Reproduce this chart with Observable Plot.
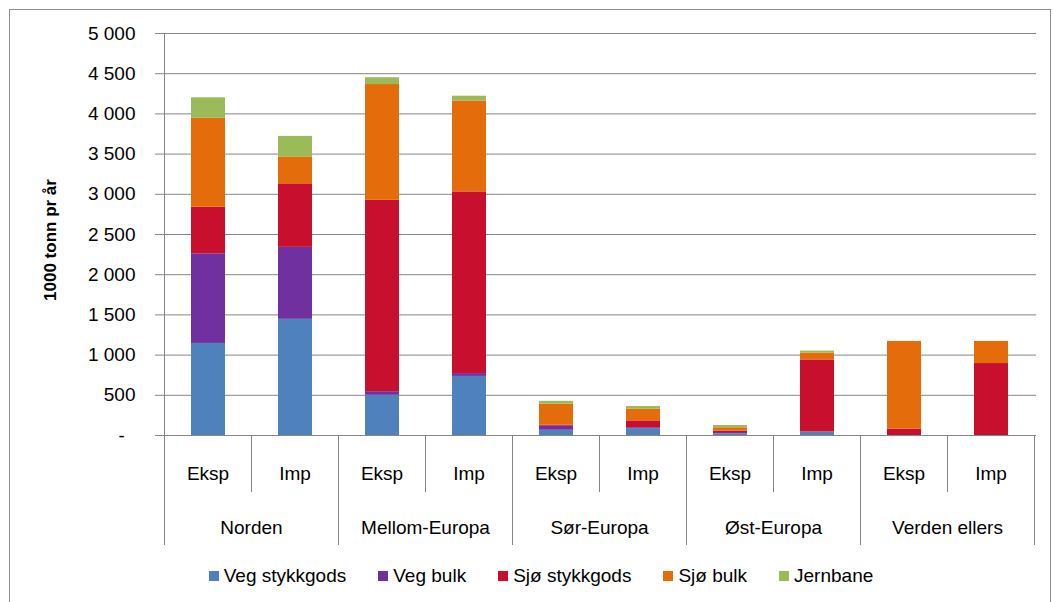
<!DOCTYPE html>
<html><head><meta charset="utf-8">
<script src="https://cdn.jsdelivr.net/npm/d3@7"></script>
<script src="https://cdn.jsdelivr.net/npm/@observablehq/plot@0.6"></script>
<style>
body{margin:0;background:#fff;font-family:"Liberation Sans",Arial,sans-serif;}
#frame{position:absolute;left:9px;top:9px;width:1042px;height:620px;border:1px solid #8c8c8c;box-sizing:border-box;}
#chart{position:absolute;left:0;top:0;}
#legend{position:absolute;top:565px;left:0;width:1082px;display:flex;justify-content:center;gap:32px;font-size:19px;color:#000;}
#legend .it{display:flex;align-items:center;}
#legend .sw{width:10px;height:10px;margin-right:5px;display:inline-block;}
</style></head><body>
<div id="frame"></div>
<div id="chart"></div>
<div id="legend"></div>
<script>
const regions = ["Norden","Mellom-Europa","Sør-Europa","Øst-Europa","Verden ellers"];
const flows = ["Eksp","Imp"];
const series = ["Veg stykkgods","Veg bulk","Sjø stykkgods","Sjø bulk","Jernbane"];
const colors = ["#4F81BD","#7030A0","#C8102E","#E46C0A","#9BBB59"];
// one value per bar: Norden Eksp, Norden Imp, Mellom-Europa Eksp, ... Verden ellers Imp
const vegStykkgods = [1145,1445,500,735,65,85,20,40,0,0];
const vegBulk      = [1115,895,45,35,50,12,17,5,0,0];
const sjoStykkgods = [580,790,2380,2260,15,85,18,895,80,895];
const sjoBulk      = [1105,335,1440,1130,260,145,41,85,1090,275];
const jernbane     = [255,255,85,60,35,33,28,25,0,0];
const yTicks = [0,500,1000,1500,2000,2500,3000,3500,4000,4500,5000];

const seriesValues = [vegStykkgods, vegBulk, sjoStykkgods, sjoBulk, jernbane];
const bars = [];
regions.forEach(r => flows.forEach(f => bars.push({key: r + "|" + f, region: r, flow: f})));
const rows = [];
bars.forEach((b, i) => series.forEach((s, j) => rows.push({key: b.key, series: s, value: seriesValues[j][i]})));

const fmt = d => d === 0 ? "-\u00A0\u00A0" : d3.format(",")(d).replace(/,/g, " ");
const FONT = "'Liberation Sans', Arial, sans-serif";
const FS = 19;
const W = 1053, H = 560, BASE = 435, TOP = 33;

const plot = Plot.plot({
  width: W, height: H,
  marginTop: TOP, marginBottom: H - BASE, marginLeft: 162, marginRight: 17,
  style: {fontFamily: FONT, fontSize: FS + "px", color: "#000", background: "transparent", overflow: "visible"},
  x: {domain: bars.map(b => b.key), paddingInner: 0.61, paddingOuter: 0.305, axis: null},
  y: {domain: [0, 5000], axis: null},
  color: {domain: series, range: colors},
  marks: [
    Plot.gridY(yTicks, {stroke: "#868686", strokeOpacity: 1, strokeWidth: 1}),
    Plot.barY(rows, {x: "key", y: "value", fill: "series", inset: 0}),
    Plot.axisY(yTicks, {tickSize: 7, tickPadding: 20, tickFormat: fmt, label: null, stroke: "#868686", fill: "#000"}),
    Plot.ruleY([0], {stroke: "#868686", strokeWidth: 1})
  ]
});
document.getElementById("chart").appendChild(plot);

const sx = plot.scale("x");
const step = sx.step, bw = sx.bandwidth;
const svg = d3.select(plot);
const left = k => sx.apply(k) + bw / 2 - step / 2;
const g = svg.append("g");
// y axis line
g.append("line").attr("x1", left(bars[0].key)).attr("x2", left(bars[0].key))
  .attr("y1", TOP).attr("y2", BASE).attr("stroke", "#868686");
// separators and inner labels
bars.forEach((b, i) => {
  const x = left(b.key);
  g.append("line").attr("x1", x).attr("x2", x).attr("y1", BASE)
    .attr("y2", i % 2 === 0 ? 545 : 492).attr("stroke", "#868686");
  g.append("text").attr("x", x + step / 2).attr("y", 473).attr("text-anchor", "middle")
    .attr("dominant-baseline", "central").attr("font-size", FS).attr("font-family", FONT).text(b.flow);
});
const lastX = left(bars[bars.length - 1].key) + step;
g.append("line").attr("x1", lastX).attr("x2", lastX).attr("y1", BASE).attr("y2", 545).attr("stroke", "#868686");
regions.forEach(r => {
  const x = left(r + "|Eksp") + step;
  g.append("text").attr("x", x).attr("y", 527).attr("text-anchor", "middle")
    .attr("dominant-baseline", "central").attr("font-size", FS).attr("font-family", FONT).text(r);
});
// y label
g.append("text").attr("transform", "translate(50,240) rotate(-90)").attr("text-anchor", "middle")
  .attr("dominant-baseline", "central").attr("font-weight", "bold").attr("font-size", 17)
  .attr("font-family", FONT).text("1000 tonn pr år");

// legend
const leg = d3.select("#legend");
series.forEach((s, i) => {
  const it = leg.append("div").attr("class", "it");
  it.append("span").attr("class", "sw").style("background", colors[i]);
  it.append("span").text(s);
});
</script>
</body></html>
